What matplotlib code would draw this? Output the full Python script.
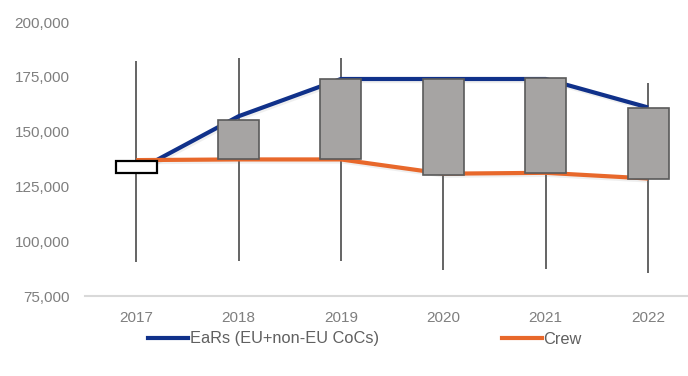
import matplotlib.pyplot as plt
import matplotlib.patheffects as pe
from matplotlib.lines import Line2D
from matplotlib.ticker import FuncFormatter

# data
years = ['2017', '2018', '2019', '2020', '2021', '2022']
high = [182300, 183400, 183400, 174000, 174300, 172000]
low = [90600, 91000, 91100, 86900, 87200, 85300]
open_ = [131200, 155300, 173800, 173800, 174300, 160900]
close = [136700, 137300, 137300, 130200, 131200, 128400]
ears = [132000, 157000, 174000, 174000, 174000, 161000]
crew = [137000, 137300, 137300, 130800, 131200, 128600]

plt.rcParams['font.family'] = ['Liberation Sans', 'DejaVu Sans']

fig = plt.figure(figsize=(6.88, 3.76), dpi=100)
ax = fig.add_axes([85 / 688, 80 / 376, 603 / 688, 274 / 376])

x = list(range(len(years)))
shadow = [pe.SimpleLineShadow(offset=(1, -1.5), alpha=0.12, shadow_color='gray'),
          pe.Normal()]

# wicks
ax.vlines(x, low, high, color='#3a3a3a', lw=1.1, zorder=1)

# lines
ax.plot(x, ears, color='#10318a', lw=3.0, zorder=2, path_effects=shadow,
        solid_capstyle='butt')
ax.plot(x, crew, color='#e8682b', lw=3.0, zorder=2, path_effects=shadow,
        solid_capstyle='butt')

# up/down boxes
for i in x:
    lo, hi = min(open_[i], close[i]), max(open_[i], close[i])
    if close[i] > open_[i]:
        ax.bar(i, hi - lo, bottom=lo, width=0.4, facecolor='white',
               edgecolor='black', lw=1.6, zorder=3)
    else:
        ax.bar(i, hi - lo, bottom=lo, width=0.4, facecolor='#a6a4a3',
               edgecolor='#5a5a5a', lw=1.2, zorder=3)

ax.set_xlim(-0.5, 5.39)
ax.set_ylim(75000, 200000)
ax.set_yticks(range(75000, 200001, 25000))
ax.yaxis.set_major_formatter(FuncFormatter(lambda v, p: f'{int(v):,}'))
ax.set_xticks(x)
ax.set_xticklabels(years)
ax.tick_params(axis='both', length=0, labelsize=11, colors='#7f7f7f')
ax.tick_params(axis='y', pad=11)
ax.tick_params(axis='x', pad=11)
for s in ['top', 'right', 'left']:
    ax.spines[s].set_visible(False)
ax.spines['bottom'].set_color('#d9d9d9')
ax.spines['bottom'].set_linewidth(1.5)

handles = [Line2D([], [], color='#10318a', lw=3.0),
           Line2D([], [], color='#e8682b', lw=3.0)]
leg = fig.legend(handles, ['EaRs (EU+non-EU CoCs)', 'Crew'], ncol=2,
                 loc='center left', bbox_to_anchor=(148 / 688, 1 - 339 / 376),
                 frameon=False, fontsize=11.8, handlelength=2.45,
                 handletextpad=0.1, columnspacing=7.5, borderpad=0,
                 borderaxespad=0)
for t in leg.get_texts():
    t.set_color('#606060')

fig.savefig('out.png', dpi=100)
